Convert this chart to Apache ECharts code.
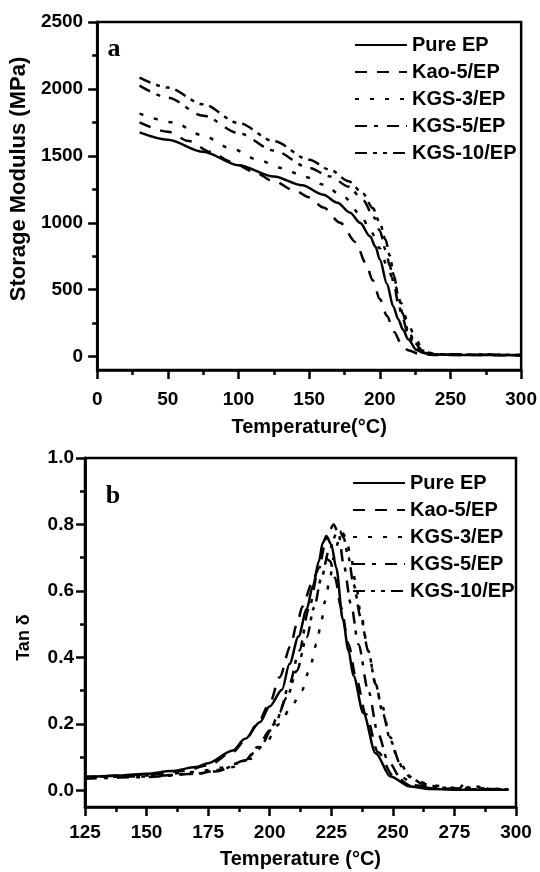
<!DOCTYPE html>
<html>
<head>
<meta charset="utf-8">
<script src="https://cdn.jsdelivr.net/npm/echarts@6/dist/echarts.min.js"></script>
<style>
  html, body { margin: 0; padding: 0; background: #fff; }
  #chart { width: 540px; height: 872px; }
</style>
</head>
<body>
<div id="chart"></div>
<script>
// series names (same samples in both panels)
var seriesNames = ["Pure EP", "Kao-5/EP", "KGS-3/EP", "KGS-5/EP", "KGS-10/EP"];

// panel a: storage modulus, [temperature °C, MPa]
var modPure = [[30,1675],[50,1620],[75,1530],[100,1430],[125,1345],[145,1280],[160,1210],[170,1150],[179,1075],[186,1000],[193,900],[197,820],[200,725],[205,545],[209.5,375],[213,280],[216.5,200],[220,130],[226,50],[232,25],[240,15],[260,12],[300,10]];
var modKao = [[30,1750],[50,1680],[65,1610],[80,1530],[95,1455],[110,1385],[125,1310],[140,1240],[150,1190],[160,1115],[172,1000],[183,855],[190,700],[195,570],[200,430],[205,305],[210,185],[215,100],[220,48],[228,20],[240,12],[300,10]];
var modKgs3 = [[30,1815],[54,1750],[74,1655],[95,1555],[114,1470],[130,1410],[148,1340],[160,1285],[175,1190],[186,1065],[194,930],[200,810],[205,680],[211,525],[215,400],[220,250],[225,140],[230,60],[236,25],[245,15],[300,12]];
var modKgs5 = [[30,2025],[50,1935],[75,1800],[100,1670],[125,1540],[150,1410],[165,1345],[178,1270],[188,1170],[196,1040],[200,940],[204,800],[207,680],[210,540],[213,400],[216,290],[220,170],[225,80],[230,30],[240,15],[300,12]];
var modKgs10 = [[30,2085],[50,2010],[75,1885],[100,1745],[125,1610],[150,1470],[165,1395],[178,1310],[188,1220],[195,1110],[200,1000],[204,875],[207,755],[210,605],[213,455],[216,325],[220,200],[225,100],[230,45],[240,18],[300,12]];

// panel b: tan delta, [temperature °C, tan δ]
var tanPure = [[125,0.040],[140,0.045],[150,0.050],[160,0.058],[170,0.070],[175,0.082],[185,0.120],[190,0.155],[196,0.205],[200,0.253],[205,0.303],[208,0.380],[211.7,0.463],[215,0.545],[217.5,0.614],[220,0.690],[221.5,0.744],[223,0.765],[225,0.740],[227,0.670],[229.7,0.514],[232,0.420],[234,0.345],[238,0.233],[243,0.112],[249,0.042],[257,0.012],[265,0.004],[280,0.002],[297,0.002]];
var tanKao = [[125,0.040],[150,0.047],[165,0.058],[175,0.075],[185,0.115],[190,0.150],[195,0.200],[200,0.262],[204,0.340],[208.4,0.433],[211,0.500],[213.3,0.553],[217,0.620],[220,0.670],[222.5,0.700],[224.5,0.690],[226.5,0.640],[229,0.550],[232,0.440],[235,0.340],[239,0.230],[244,0.115],[250,0.045],[258,0.012],[270,0.004],[297,0.002]];
var tanKgs3 = [[125,0.040],[150,0.045],[170,0.055],[180,0.068],[186,0.080],[192,0.095],[198,0.140],[204,0.200],[209,0.255],[213,0.300],[216,0.360],[219,0.440],[221,0.510],[222.5,0.570],[224.3,0.630],[226,0.700],[228,0.750],[229.5,0.775],[231,0.760],[233,0.700],[235,0.620],[237,0.530],[240,0.420],[243,0.320],[245,0.270],[249,0.160],[252,0.090],[255,0.050],[260,0.027],[266,0.015],[275,0.008],[297,0.003]];
var tanKgs5 = [[125,0.035],[150,0.040],[170,0.050],[178,0.057],[185,0.070],[190,0.090],[195,0.130],[200,0.180],[204,0.235],[208,0.320],[212,0.420],[216,0.550],[220,0.670],[223,0.760],[226,0.800],[228,0.770],[230,0.680],[233,0.560],[236,0.440],[240,0.300],[244,0.170],[248,0.090],[253,0.040],[260,0.015],[270,0.005],[297,0.003]];
var tanKgs10 = [[125,0.040],[150,0.042],[170,0.050],[180,0.062],[190,0.090],[196,0.130],[202,0.200],[207,0.280],[211,0.360],[215,0.460],[218,0.550],[221,0.640],[224,0.720],[227,0.770],[228.5,0.780],[230,0.760],[232,0.700],[234,0.620],[237,0.520],[240,0.420],[243,0.320],[246,0.230],[249,0.150],[253,0.080],[257,0.040],[262,0.020],[270,0.008],[277,0.006],[279,0.020],[281,0.008],[283,0.012],[290,0.004],[297,0.003]];

// tick values
var modTicks = [0, 500, 1000, 1500, 2000, 2500];
var modMinorTicks = [250, 750, 1250, 1750, 2250];
var tanTicks = [0, 0.2, 0.4, 0.6, 0.8, 1.0];
var tanMinorTicks = [0.1, 0.3, 0.5, 0.7, 0.9];

var modData = [modPure, modKao, modKgs3, modKgs5, modKgs10];
var tanData = [tanPure, tanKao, tanKgs3, tanKgs5, tanKgs10];

// line patterns: solid, dash, dot, dash-dot, dash-dot-dot
var dashes = ["solid", [12, 10], [4, 11], [12, 7, 4, 9], [12, 6, 4, 6, 4, 6]];

var FONT = '"Liberation Sans", Arial, sans-serif';
var black = "#000";

var myChart = echarts.init(document.getElementById("chart"));

function textStyle(size) {
    return { fontFamily: FONT, fontWeight: "bold", fontSize: size, color: black };
}

function lineW() {
    return { color: black, width: 2.5, type: "solid", opacity: 1 };
}

function xAxis(grid, min, max, interval, name, gap, margin) {
    return {
        type: "value", gridIndex: grid, min: min, max: max, interval: interval,
        name: name, nameLocation: "middle", nameGap: gap,
        nameTextStyle: textStyle(20),
        axisLine: { show: true, onZero: false, lineStyle: lineW() },
        axisTick: { show: true, inside: false, length: 9, lineStyle: lineW() },
        minorTick: { show: true, splitNumber: 2, length: 5, lineStyle: lineW() },
        axisLabel: Object.assign({ show: true, margin: margin }, textStyle(19)),
        splitLine: { show: false },
        z: 10
    };
}

function yAxisMain(grid, min, max, ticks, name, gap, nameSize, pad, margin, fmt) {
    return {
        type: "value", gridIndex: grid, min: min, max: max, position: "left",
        name: name, nameLocation: "middle", nameGap: gap,
        nameTextStyle: Object.assign({ padding: pad }, textStyle(nameSize)),
        axisLine: { show: true, onZero: false, lineStyle: lineW() },
        axisTick: { show: true, inside: false, customValues: ticks, length: 9, lineStyle: lineW() },
        axisLabel: Object.assign({ customValues: ticks, margin: margin, formatter: fmt }, textStyle(19)),
        splitLine: { show: false },
        z: 10
    };
}

function yAxisMinor(grid, min, max, ticks) {
    return {
        type: "value", gridIndex: grid, min: min, max: max, position: "left",
        axisLine: { show: true, onZero: false, lineStyle: lineW() },
        axisTick: { show: true, inside: false, customValues: ticks, length: 5, lineStyle: lineW() },
        axisLabel: { show: false },
        splitLine: { show: false },
        z: 10
    };
}

var series = [];
for (var i = 0; i < seriesNames.length; i++) {
    series.push({
        name: seriesNames[i], type: "line", xAxisIndex: 0, yAxisIndex: 0,
        data: modData[i], symbol: "none", smooth: 0.3, smoothMonotone: "x",
        itemStyle: { color: black },
        lineStyle: { color: black, width: 2.5, type: dashes[i] }, z: 5
    });
    series.push({
        name: seriesNames[i], type: "line", xAxisIndex: 1, yAxisIndex: 2,
        data: tanData[i], symbol: "none", smooth: 0.3, smoothMonotone: "x",
        itemStyle: { color: black },
        lineStyle: { color: black, width: 2.5, type: dashes[i] }, z: 5
    });
}

function legend(left, top) {
    return {
        orient: "vertical", left: left, top: top, padding: 0, data: seriesNames,
        itemWidth: 52, itemHeight: 14, itemGap: 7, selectedMode: false,
        itemStyle: { opacity: 0 },
        textStyle: Object.assign({ lineHeight: 20 }, textStyle(20))
    };
}

option = {
    animation: false,
    backgroundColor: "#fff",
    grid: [
        { left: 94, top: 22, width: 428, height: 348, show: true, borderColor: black, borderWidth: 2.5 },
        { left: 85, top: 458, width: 431, height: 349, show: true, borderColor: black, borderWidth: 2.5 }
    ],
    xAxis: [
        xAxis(0, 0, 300, 50, "Temperature(\u00B0C)", 47, 20),
        xAxis(1, 125, 300, 25, "Temperature (\u00B0C)", 42, 16)
    ],
    yAxis: [
        yAxisMain(0, -100, 2500, modTicks, "Storage Modulus (MPa)", 57, 22, [0, 0, 0, 34], 14,
            function (v) { return String(v); }),
        yAxisMinor(0, -100, 2500, modMinorTicks),
        yAxisMain(1, -0.05, 1.0, tanTicks, "Tan \u03B4", 52, 18, [0, 10, 0, 0], 11,
            function (v) { return v.toFixed(1); }),
        yAxisMinor(1, -0.05, 1.0, tanMinorTicks)
    ],
    legend: [legend(354, 35), legend(352, 473)],
    graphic: [
        { type: "text", x: 114, y: 49, style: { text: "a", font: 'bold 26px "Liberation Serif"', fill: black, textAlign: "center", textVerticalAlign: "middle" } },
        { type: "text", x: 113, y: 496, style: { text: "b", font: 'bold 26px "Liberation Serif"', fill: black, textAlign: "center", textVerticalAlign: "middle" } }
    ],
    series: series
};

option && myChart.setOption(option);
</script>
</body>
</html>
